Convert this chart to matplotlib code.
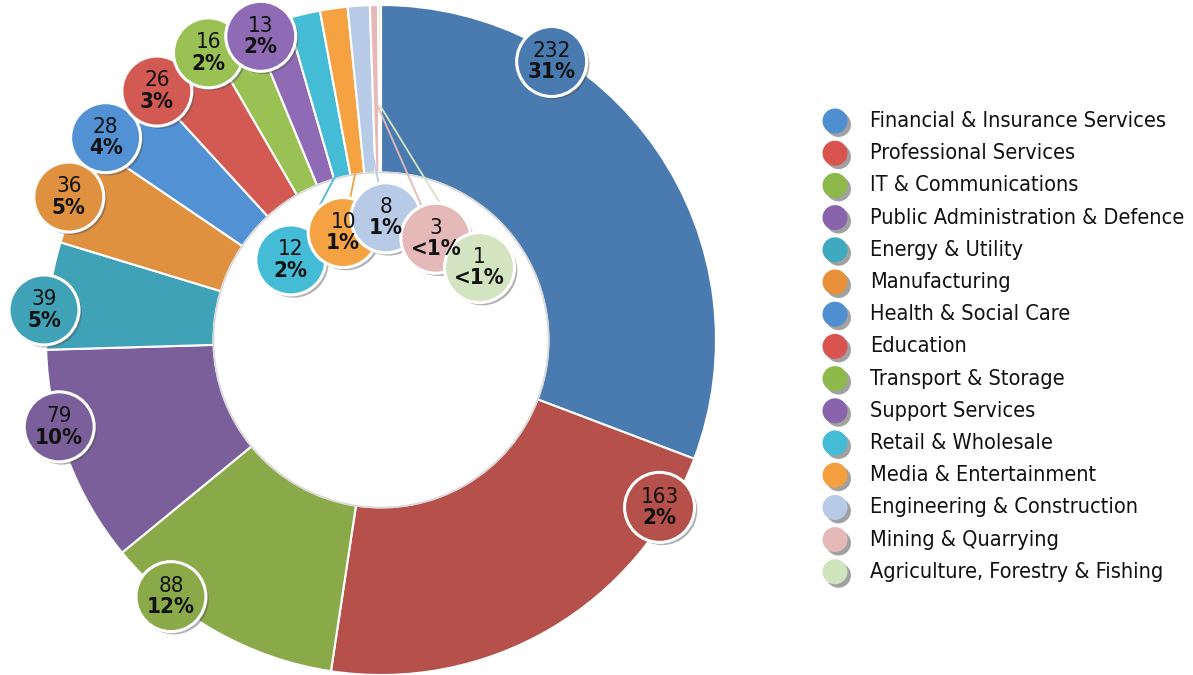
import numpy as np
import matplotlib
matplotlib.use("Agg")
from matplotlib import pyplot as plt
from matplotlib.patches import Circle
import matplotlib.patheffects as pe

plt.rcParams['font.family'] = ['DejaVu Sans']
plt.rcParams['font.stretch'] = 'condensed'

# data
sectors = ["Financial & Insurance Services", "Professional Services", "IT & Communications",
           "Public Administration & Defence", "Energy & Utility", "Manufacturing",
           "Health & Social Care", "Education", "Transport & Storage", "Support Services",
           "Retail & Wholesale", "Media & Entertainment", "Engineering & Construction",
           "Mining & Quarrying", "Agriculture, Forestry & Fishing"]
counts = [232, 163, 88, 79, 39, 36, 28, 26, 16, 13, 12, 10, 8, 3, 1]
pct_labels = ["31%", "2%", "12%", "10%", "5%", "5%", "4%", "3%", "2%", "2%",
              "2%", "1%", "1%", "<1%", "<1%"]

wedge_colors = ["#4a7bb0", "#b5514a", "#8aaa4a", "#7b5f9a", "#3fa2b6", "#e09140",
                "#5292d4", "#d35a52", "#9ac153", "#8f6bb5", "#45bcd6", "#f5a342",
                "#b8cbe6", "#e5b9b8", "#d3e5c0"]
leg_colors = ["#4f8fd0", "#d9534f", "#8db84a", "#8a63ad", "#3fa9c0", "#e8903a",
              "#4f8fd0", "#d9534f", "#8db84a", "#8a63ad", "#45bcd6", "#f5a040",
              "#b8cbe6", "#e5b9b8", "#cfe3bc"]

# badge placement: (angle in deg, radius as fraction of outer radius)
badge_pos = [(58.5, 0.975), (-31, 0.97), (-129.3, 0.99), (-164.9, 0.995), (174.9, 1.01),
             (155.4, 1.025), (143.7, 1.02), (132, 1.0), (121, 1.0), (111.6, 0.975),
             (138.4, 0.36), (109.4, 0.34), (87.7, 0.365), (61.7, 0.345), (36.3, 0.365)]
# where leader lines end inside the wedge (radius fraction), None = no leader
leader_end = [None] * 10 + [0.53, 0.52, 0.64, 0.71, 0.70]

W, H = 1193, 675
cx, cy, R = 381, 340, 335  # pie centre and radius in pixels

fig = plt.figure(figsize=(W / 100, H / 100), dpi=100)
ax = fig.add_axes([0, 0, 1, 1])
ax.set_aspect('equal')
ax.axis('off')

wedges, _ = ax.pie(counts, colors=wedge_colors, startangle=90, counterclock=False,
                   radius=1.0, wedgeprops=dict(width=0.5, edgecolor='white', linewidth=1.5))
ax.set_xlim(-cx / R, (W - cx) / R)
ax.set_ylim(-(H - cy) / R, cy / R)

# faint rim around the hole
ax.add_patch(Circle((0, 0), 0.5, facecolor='none', edgecolor='#d8d8d8', lw=1.2, zorder=3))

shadow = [pe.SimplePatchShadow(offset=(2, -2), shadow_rgbFace='#555555', alpha=0.45), pe.Normal()]
br = 35 / R
for i, w in enumerate(wedges):
    ang, rr = badge_pos[i]
    bx, by = rr * np.cos(np.radians(ang)), rr * np.sin(np.radians(ang))
    if leader_end[i] is not None:
        mid = np.radians((w.theta1 + w.theta2) / 2)
        le = leader_end[i]
        ax.plot([bx, le * np.cos(mid)], [by, le * np.sin(mid)], color=wedge_colors[i],
                lw=1.3, zorder=4, solid_capstyle='butt')
    c = Circle((bx, by), br, facecolor=wedge_colors[i], edgecolor='white', lw=2.2, zorder=5)
    c.set_path_effects(shadow)
    ax.add_patch(c)
    ax.text(bx, by + 0.002, str(counts[i]), ha='center', va='bottom', fontsize=16,
            color='#111111', zorder=6)
    ax.text(bx, by - 0.002, pct_labels[i], ha='center', va='top', fontsize=16,
            fontweight='bold', color='#111111', zorder=6)

# legend drawn beside the ring
lx = (835 - cx) / R
tx = (870 - cx) / R
leg_texts = []
for i, name in enumerate(sectors):
    y = (cy - (121 + i * 32.2)) / R
    c = Circle((lx, y), 12.5 / R, facecolor=leg_colors[i], edgecolor='none', zorder=5)
    c.set_path_effects([pe.SimplePatchShadow(offset=(2.5, -2.5), shadow_rgbFace='#444444', alpha=0.5),
                        pe.Normal()])
    ax.add_patch(c)
    leg_texts.append(ax.text(tx, y, name, ha='left', va='center', fontsize=17, color='#111111'))

# shrink legend text so the longest entry ends where the reference's does
renderer = fig.canvas.get_renderer()
widest = max(t.get_window_extent(renderer).width for t in leg_texts)
size = 17 * min(1.0, 313 / widest)
for t in leg_texts:
    t.set_fontsize(size)

fig.savefig("out.png", dpi=100, facecolor='white')
